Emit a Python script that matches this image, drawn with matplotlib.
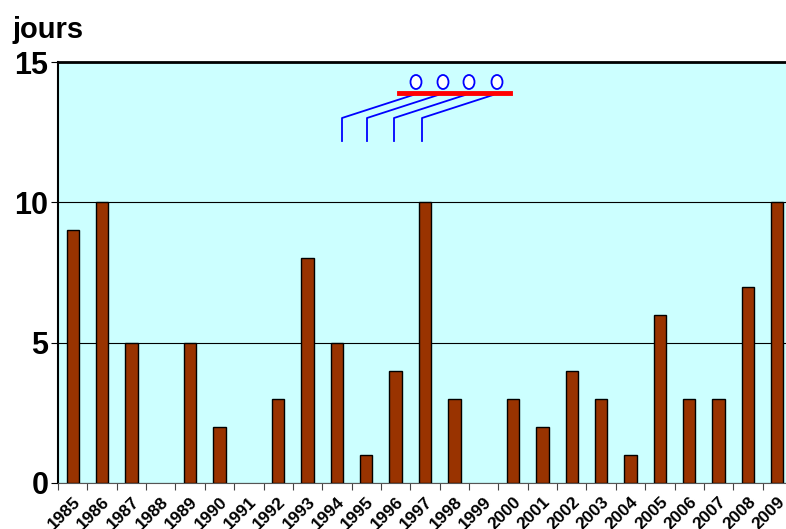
import matplotlib
matplotlib.use('Agg')
import matplotlib.pyplot as plt
from matplotlib.patches import Ellipse

years = [str(y) for y in range(1985, 2010)]
jours = [9, 10, 5, 0, 5, 2, 0, 3, 8, 5, 1, 4, 10, 3, 0, 3, 2, 4, 3, 1, 6, 3, 3, 7, 10]
yticks = [0, 5, 10, 15]

plt.rcParams['font.family'] = ['Liberation Sans', 'DejaVu Sans']

W, H = 786, 529
fig = plt.figure(figsize=(W / 100, H / 100), dpi=100)
# axes box goes a little past the right edge, as in the original
ax = fig.add_axes([58 / W, 1 - 483 / H, 734 / W, 421 / H])
ax.set_facecolor('#CCFFFF')

x = list(range(len(years)))
lw = [1 if v > 0 else 0 for v in jours]
ax.bar(x, jours, width=0.42, color='#993300', edgecolor='black', linewidth=lw, zorder=3)

ax.set_xlim(-0.5, len(years) - 0.5)
ax.set_ylim(0, 15)
ax.set_yticks(yticks)
ax.set_yticklabels([str(v) for v in yticks], fontsize=22, fontweight='bold')
ax.yaxis.grid(True, color='black', linewidth=0.8, zorder=1)

ax.set_xticks([i - 0.5 for i in x] + [len(years) - 0.5])
ax.set_xticklabels([])
ax.set_xticks(x, minor=True)
ax.set_xticklabels(years, minor=True, rotation=45, ha='right', rotation_mode='anchor',
                   fontsize=12.5, fontweight='bold')
ax.tick_params(axis='x', which='minor', length=0, pad=8)
ax.tick_params(axis='x', which='major', length=5, color='#444444')
ax.tick_params(axis='y', length=5, pad=2)

for s in ['left', 'top']:
    ax.spines[s].set_color('black')
ax.spines['top'].set_linewidth(2)
ax.spines['left'].set_linewidth(1.5)
ax.spines['bottom'].set_color('#555555')
ax.spines['right'].set_visible(False)

fig.text(12 / W, 1 - 38 / H, 'jours', fontsize=21, fontweight='bold')

# little skater icon (decoration) drawn in figure pixels
def fx(px):
    return px / W

def fy(py):
    return 1 - py / H

for x0, x1 in [(413, 342), (438, 367), (465, 394), (493, 422)]:
    fig.add_artist(plt.Line2D([fx(x0), fx(x1), fx(x1)], [fy(95), fy(118), fy(141)],
                              color='#0000FF', linewidth=1.3))
fig.add_artist(plt.Line2D([fx(399), fx(510)], [fy(93), fy(93)], color='#FF0000', linewidth=3.5))
for cx in [416, 443, 469, 497]:
    fig.add_artist(Ellipse((fx(cx), fy(82)), 11 / W, 14 / H, facecolor='white',
                           edgecolor='#0000FF', linewidth=1.3, transform=fig.transFigure))

fig.savefig('out.png', dpi=100)
